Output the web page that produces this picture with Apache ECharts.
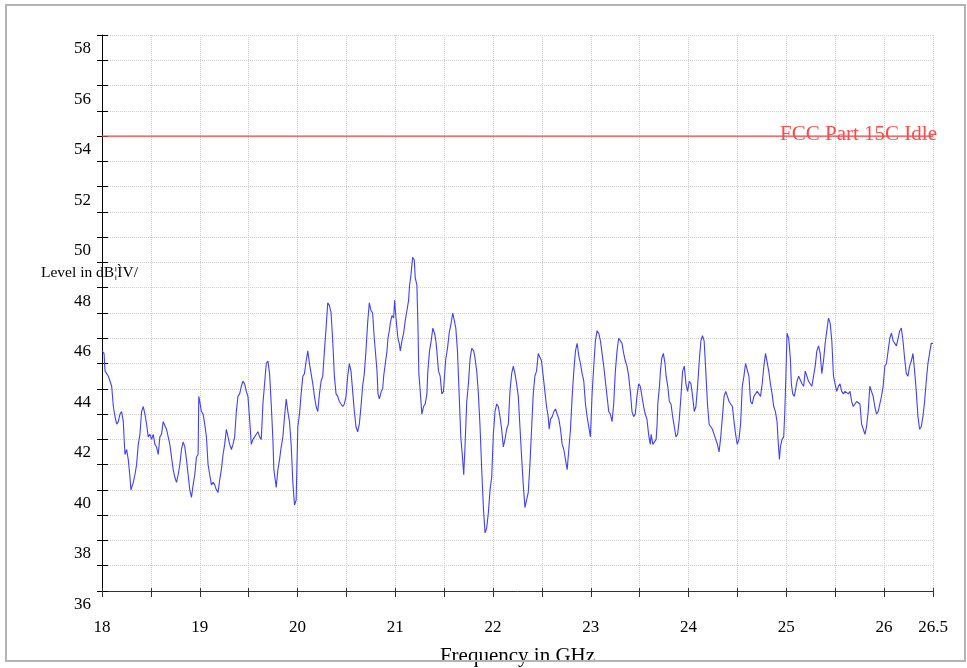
<!DOCTYPE html>
<html>
<head>
<meta charset="utf-8">
<script src="https://cdn.jsdelivr.net/npm/echarts@6/dist/echarts.min.js"></script>
<style>
html,body{margin:0;padding:0;background:#fff;}
#wrap{position:relative;width:967px;height:668px;}
#chart{position:absolute;left:0;top:0;width:967px;height:668px;}
#frame{position:absolute;left:5px;top:4px;width:961px;height:658px;box-sizing:border-box;border:2px solid #b4b4b4;pointer-events:none;}
</style>
</head>
<body>
<div id="wrap"><div id="chart"></div><div id="frame"></div></div>
<script>
// ---- data (frequency in GHz, level in dBµV/m) ----
const freqLow = [18.000,18.021,18.031,18.048,18.065,18.082,18.099,18.116,18.133,18.150,18.167,18.184,18.201,18.218,18.225,18.235,18.252,18.269,18.286,18.296,18.320,18.337,18.354,18.371,18.388,18.405,18.422,18.439,18.456,18.473,18.490,18.507,18.524,18.541,18.558,18.575,18.592,18.609,18.626,18.643,18.660,18.677,18.694,18.711,18.728,18.745,18.762,18.779,18.796,18.813,18.830,18.847,18.864,18.881,18.898,18.915,18.932,18.949,18.966,18.983,18.990,19.000,19.017,19.034,19.051,19.068,19.085,19.102,19.119,19.136,19.153,19.170,19.187,19.204,19.221,19.238,19.255,19.272,19.289,19.306,19.323,19.340,19.357,19.374,19.391,19.408,19.425,19.442,19.459,19.476,19.493,19.510,19.527,19.544,19.561,19.578,19.595,19.612,19.629,19.646,19.663,19.680,19.697,19.714,19.731,19.748,19.758,19.772,19.782,19.799,19.816,19.833,19.850,19.867,19.884,19.901,19.918,19.935,19.952,19.969,19.986,20.003,20.020,20.037,20.054,20.071,20.088,20.105,20.122,20.139,20.156,20.173,20.190,20.207,20.224,20.241,20.258,20.275,20.292,20.309,20.326,20.343,20.360,20.377,20.394,20.411,20.428,20.445,20.462,20.479,20.496,20.513,20.530,20.547,20.564,20.581,20.598,20.615,20.632,20.649,20.666,20.683,20.700,20.717,20.734,20.751,20.768,20.785];
const levelLow = [45.5,45.4,44.7,44.6,44.5,44.3,44.1,43.3,42.9,42.6,42.7,43.0,43.1,42.7,42.1,41.4,41.6,41.2,40.5,40.0,40.3,40.6,41.0,41.8,42.2,43.1,43.3,43.0,42.6,42.1,42.2,42.0,42.2,41.8,41.7,41.4,42.1,42.2,42.7,42.7,42.4,42.1,41.8,41.3,40.8,40.5,40.3,40.6,41.0,41.6,41.9,41.7,41.2,40.6,40.0,39.7,40.2,40.6,41.3,41.4,43.7,43.5,43.1,43.0,42.6,42.1,41.0,40.6,40.2,40.3,40.2,40.0,39.9,40.4,40.8,41.4,41.8,42.4,42.4,41.8,41.6,41.8,42.1,43.1,43.7,43.8,44.1,44.3,44.2,43.9,43.7,42.8,41.8,42.0,42.1,42.2,42.3,42.1,42.0,43.4,44.2,45.0,45.1,44.6,43.4,42.0,40.8,40.4,40.1,40.8,41.2,41.7,42.1,42.9,43.6,43.1,42.7,41.8,40.3,39.4,39.6,42.5,43.0,43.8,44.5,44.6,45.1,45.5,45.0,44.6,44.2,43.7,43.3,43.1,43.8,44.3,44.5,45.5,46.4,47.4,47.3,47.0,45.9,44.5,43.8,43.7,43.5,43.4,43.3,43.4,43.7,44.5,45.0,44.7,43.9,43.1,42.5,42.3,42.6,43.3,44.1,44.6,45.5,46.6,47.4,47.1,47.0,46.0];

const freqMid = [20.813,20.823,20.837,20.857,20.871,20.881,20.898,20.915,20.925,20.939,20.949,20.966,20.983,20.993,21.007,21.017,21.027,21.041,21.051,21.068,21.085,21.102,21.119,21.136,21.146,21.160,21.177,21.194,21.204,21.221,21.231,21.241,21.255,21.272,21.289,21.306,21.323,21.333,21.350,21.367,21.384,21.401,21.415,21.425,21.442,21.459,21.476,21.493,21.503,21.517,21.534,21.551,21.571,21.588,21.605,21.619,21.636,21.653,21.670,21.687,21.700,21.714,21.731,21.748,21.765,21.782,21.802,21.816,21.833,21.850,21.867,21.884,21.901,21.918,21.935,21.952,21.969,21.986,22.003,22.020,22.037,22.054,22.071,22.088,22.105,22.122,22.139,22.156,22.173,22.190,22.207,22.224,22.241,22.258,22.275,22.292,22.309,22.326,22.343,22.360,22.377,22.394,22.411,22.428,22.445,22.462,22.479,22.496,22.513,22.530,22.547,22.564,22.574,22.588,22.605,22.622,22.639,22.656,22.673,22.690,22.707,22.724,22.741,22.758,22.775,22.792,22.809,22.826,22.843,22.860,22.877,22.894,22.911,22.928,22.945,22.962,22.979,22.996,23.013,23.030,23.047,23.064,23.081,23.098,23.115,23.132,23.149,23.166,23.183,23.200,23.217,23.234,23.251,23.268,23.285,23.302,23.319,23.336,23.353,23.370,23.387,23.404,23.421,23.438,23.455,23.472,23.489,23.506,23.523,23.540,23.557,23.574,23.591,23.608];
const levelMid = [44.7,43.8,43.6,43.9,44.0,44.5,45.0,45.5,46.0,46.3,46.6,46.9,46.8,47.5,46.8,46.4,46.0,45.8,45.5,45.9,46.2,46.7,47.1,47.5,48.1,48.5,49.2,49.1,48.4,48.1,46.6,44.6,43.9,43.0,43.3,43.4,43.8,44.7,45.5,45.9,46.4,46.2,45.9,45.5,44.7,44.5,43.8,43.9,44.5,45.2,45.6,46.2,46.6,47.0,47.0,46.4,45.5,43.8,42.1,41.3,40.6,41.8,43.5,44.2,45.2,45.6,45.5,45.2,44.7,43.8,42.5,40.8,39.3,38.3,38.5,39.1,40.0,40.5,42.2,43.1,43.4,43.3,42.9,42.4,41.7,42.0,42.4,42.6,43.9,44.6,44.9,44.6,44.2,43.7,42.5,41.3,40.2,39.3,39.3,39.9,41.0,42.4,43.8,44.5,44.7,45.4,45.4,45.1,44.5,43.9,43.3,42.9,42.4,42.8,42.9,43.1,43.2,43.0,42.8,42.4,41.8,41.6,41.2,40.8,41.6,42.4,43.7,44.7,45.5,45.8,45.3,45.0,44.6,44.3,43.4,42.9,42.5,42.1,43.8,44.9,45.9,46.3,46.2,45.9,45.4,44.9,44.3,43.7,43.1,43.0,42.7,43.4,44.7,45.5,46.0,45.9,45.8,45.4,45.1,44.9,44.5,43.9,43.1,42.9,43.0,43.7,44.2,44.1,43.7,43.3,43.0,42.8,42.2,41.8];

const freqHigh = [23.617,23.634,23.651,23.668,23.678,23.685,23.702,23.712,23.725,23.742,23.759,23.770,23.787,23.803,23.820,23.837,23.854,23.871,23.888,23.905,23.922,23.939,23.956,23.973,23.990,24.007,24.024,24.041,24.058,24.075,24.092,24.109,24.126,24.142,24.159,24.176,24.193,24.210,24.227,24.244,24.261,24.278,24.295,24.312,24.329,24.346,24.363,24.380,24.397,24.414,24.431,24.448,24.465,24.481,24.498,24.515,24.532,24.549,24.566,24.583,24.600,24.617,24.634,24.651,24.668,24.685,24.702,24.719,24.736,24.753,24.770,24.787,24.804,24.820,24.837,24.854,24.871,24.888,24.905,24.915,24.929,24.939,24.956,24.973,24.983,24.993,25.007,25.024,25.041,25.051,25.065,25.082,25.098,25.109,25.126,25.143,25.160,25.177,25.193,25.210,25.227,25.244,25.261,25.278,25.295,25.312,25.329,25.346,25.363,25.380,25.397,25.414,25.431,25.448,25.465,25.482,25.498,25.515,25.532,25.549,25.566,25.583,25.600,25.617,25.634,25.651,25.668,25.685,25.702,25.719,25.736,25.753,25.770,25.787,25.804,25.820,25.837,25.854,25.871,25.888,25.905,25.922,25.939,25.956,25.973,25.990,26.007,26.024,26.041,26.058,26.075,26.092,26.109,26.126,26.143,26.160,26.176,26.193,26.210,26.227,26.244,26.261,26.278,26.295,26.312,26.329,26.346,26.363,26.380,26.397,26.414,26.431,26.448,26.465,26.482,26.500];
const levelHigh = [42.2,41.8,41.8,42.0,42.6,43.4,44.1,44.7,45.2,45.4,45.0,44.5,44.1,43.5,43.4,42.9,42.5,42.1,42.2,42.8,43.7,44.7,44.9,44.2,43.9,44.3,44.2,43.7,43.1,43.3,44.1,45.1,45.9,46.1,45.9,44.7,43.4,42.6,42.5,42.4,42.2,42.0,41.8,41.5,42.1,42.9,43.7,43.9,43.7,43.5,43.4,43.3,42.7,42.2,41.8,42.0,42.6,44.1,44.5,45.0,45.0,44.5,43.5,43.4,43.7,43.8,43.9,43.8,43.7,44.2,44.9,45.4,45.4,44.7,44.2,43.8,43.3,43.1,42.7,42.0,41.2,41.7,42.0,42.1,43.0,44.2,46.2,46.0,45.2,44.2,43.8,43.7,43.7,44.3,44.5,44.5,44.2,44.1,44.7,44.5,44.3,44.3,44.1,44.5,44.9,45.5,45.7,45.4,44.6,45.1,45.8,46.3,46.8,46.6,45.9,44.5,44.2,43.9,44.1,44.2,43.9,43.8,43.9,43.9,43.8,43.9,43.5,43.3,43.4,43.5,43.5,43.4,42.6,42.4,42.2,42.5,43.1,44.1,44.1,43.7,43.3,43.0,43.1,43.1,43.7,44.1,44.9,45.0,45.5,46.0,46.2,45.9,45.8,45.7,46.0,46.3,46.4,45.9,45.2,44.6,44.5,44.9,45.1,45.4,44.7,43.9,42.9,42.4,42.5,42.9,43.5,44.3,45.0,45.4,45.8,45.8];

const limitName = 'FCC Part 15C Idle';
const limitFreq = [18, 26.5];
const limitLevel = [54, 54];

const xMin = 18, xMax = 26.5, xStep = 0.5;
const yMin = 36, yMax = 58, yStep = 1;
const xLabelExtra = [26.5];
const yAxisTitle = 'Level in dB¦ÌV/';
const xAxisTitle = 'Frequency in GHz';

// ---- build ----
const freq = freqLow.concat(freqMid, freqHigh);
const level = levelLow.concat(levelMid, levelHigh);
const traceData = freq.map((f, i) => [f, level[i]]);
const limitData = limitFreq.map((f, i) => [f, limitLevel[i]]);

const FONT = 'Liberation Serif, Times New Roman, serif';
const chart = echarts.init(document.getElementById('chart'), null, {renderer: 'canvas'});

const commonX = {type: 'value', min: xMin, max: xMax, interval: xStep};
const commonY = {type: 'value', min: yMin, max: yMax, interval: yStep};

chart.setOption({
  animation: false,
  backgroundColor: '#ffffff',
  title: {
    text: yAxisTitle, left: 41, top: 265, padding: 0,
    textStyle: {fontFamily: FONT, fontSize: 15.5, fontWeight: 'normal', color: '#000'}
  },
  grid: {left: 102, right: 34, top: 35, bottom: 77, containLabel: false, outerBoundsMode: 'none'},
  xAxis: [
    Object.assign({}, commonX, {
      position: 'bottom',
      name: xAxisTitle, nameLocation: 'middle', nameGap: 55,
      nameTextStyle: {fontFamily: FONT, fontSize: 21, color: '#000'},
      axisLine: {show: true, onZero: false, lineStyle: {color: '#333', width: 1}},
      axisTick: {show: true, length: 6, lineStyle: {color: '#333'}},
      axisLabel: {
        show: true, margin: 28, fontFamily: FONT, fontSize: 17, color: '#000',
        showMinLabel: true, showMaxLabel: true,
        formatter: v => (Number.isInteger(v) || xLabelExtra.includes(v)) ? String(v) : ''
      },
      splitLine: {show: true, lineStyle: {color: '#d0d0d0', type: 'dotted', width: 1}}
    }),
    Object.assign({}, commonX, {
      position: 'bottom', gridIndex: 0,
      axisLine: {show: false, onZero: false},
      axisTick: {show: true, inside: true, length: 3, lineStyle: {color: '#333'}},
      axisLabel: {show: false}, splitLine: {show: false}
    })
  ],
  yAxis: [
    Object.assign({}, commonY, {
      position: 'left',
      axisLine: {show: true, onZero: false, lineStyle: {color: '#000', width: 1}},
      axisTick: {show: true, length: 5, lineStyle: {color: '#000'}},
      axisLabel: {
        show: true, margin: 11, fontFamily: FONT, fontSize: 17, color: '#000',
        verticalAlign: 'top', padding: [5, 0, 0, 0],
        formatter: v => (v % 2 === 0) ? String(v) : ''
      },
      splitLine: {show: true, lineStyle: {color: '#d0d0d0', type: 'dotted', width: 1}}
    }),
    Object.assign({}, commonY, {
      position: 'left', gridIndex: 0,
      axisLine: {show: false, onZero: false},
      axisTick: {show: true, inside: true, length: 6, lineStyle: {color: '#000'}},
      axisLabel: {show: false}, splitLine: {show: false}
    })
  ],
  series: [
    {
      name: limitName, type: 'line', data: limitData,
      xAxisIndex: 0, yAxisIndex: 0,
      showSymbol: false, symbol: 'none',
      lineStyle: {color: '#ff4040', width: 1.2, opacity: 1},
      endLabel: {
        show: true, formatter: '{a}', align: 'right', distance: 4, offset: [0, -2],
        fontFamily: FONT, fontSize: 21, color: '#ff4a4a'
      },
      z: 5
    },
    {
      name: 'Trace', type: 'line', data: traceData,
      xAxisIndex: 0, yAxisIndex: 0,
      showSymbol: false, symbol: 'none',
      lineStyle: {color: '#4040ff', width: 1.1},
      z: 4
    }
  ]
});
</script>
</body>
</html>
